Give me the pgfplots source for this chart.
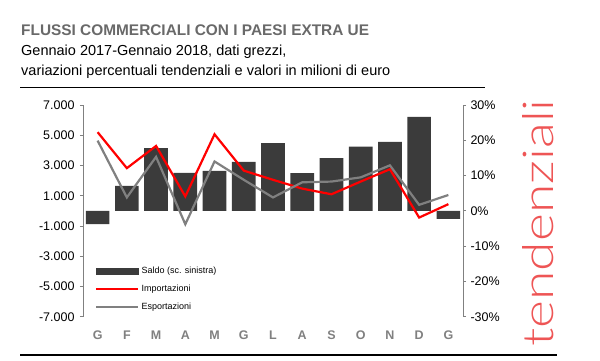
\documentclass[border=0pt]{standalone}
\usepackage{fontspec}
\setmainfont{Liberation Sans}
\newfontfamily\thinfont{Lato Light}
\usepackage{pgfplots}
\pgfplotsset{compat=1.18}
\definecolor{barc}{RGB}{59,59,59}
\definecolor{impc}{RGB}{255,0,0}
\definecolor{espc}{RGB}{128,128,128}
\definecolor{titc}{RGB}{105,105,105}
\definecolor{tendc}{RGB}{238,85,85}
\begin{document}
\begin{tikzpicture}
\useasboundingbox (0pt,0pt) rectangle (600pt,360pt);
\node[anchor=base west,inner sep=0pt,text=titc,font=\fontsize{15.4}{18}\selectfont\bfseries] at (21pt,325pt) {FLUSSI COMMERCIALI CON I PAESI EXTRA UE};
\node[anchor=base west,inner sep=0pt,font=\fontsize{14.5}{17}\selectfont] at (21pt,305pt) {Gennaio 2017-Gennaio 2018, dati grezzi,};
\node[anchor=base west,inner sep=0pt,font=\fontsize{14.5}{17}\selectfont] at (21pt,285pt) {variazioni percentuali tendenziali e valori in milioni di euro};
\draw[line width=1.5pt] (20pt,272.5pt) -- (485pt,272.5pt);
\draw[line width=1.5pt] (20pt,5pt) -- (557pt,5pt);
\node[anchor=base west,inner sep=0pt,rotate=90,text=tendc] at (553pt,13.3pt) {\resizebox{247pt}{31pt}{\thinfont tendenziali}};
\begin{axis}[
  at={(83pt,43.3pt)}, anchor=south west, scale only axis,
  width=380pt, height=211.7pt,
  xmin=-0.5, xmax=12.5, ymin=-7000, ymax=7000,
  axis y line*=left, axis x line*=bottom,
  x axis line style={draw=none},
  xtick={0,...,12},
  xticklabels={G,F,M,A,M,G,L,A,S,O,N,D,G},
  major x tick style={draw=none},
  xticklabel style={text=espc,font=\fontsize{12.5}{14}\selectfont\bfseries,yshift=-8pt},
  ytick={-7000,-5000,-3000,-1000,1000,3000,5000,7000},
  yticklabels={-7.000,-5.000,-3.000,-1.000,1.000,3.000,5.000,7.000},
  yticklabel style={font=\fontsize{12.5}{14}\selectfont,xshift=-2pt},
  y axis line style={draw=espc,line width=0.8pt},
  major y tick style={draw=espc,line width=0.8pt},
  tick align=outside, major tick length=3pt,
  clip=false,
]
\addplot[ybar, bar width=0.81, fill=barc, draw=none] coordinates {
(0,-880) (1,1650) (2,4140) (3,2510) (4,2650) (5,3240) (6,4480)
(7,2490) (8,3480) (9,4250) (10,4560) (11,6220) (12,-530)};
\end{axis}
\begin{axis}[
  at={(83pt,43.3pt)}, anchor=south west, scale only axis,
  width=380pt, height=211.7pt,
  xmin=-0.5, xmax=12.5, ymin=-30, ymax=30,
  axis y line*=right, axis x line=none,
  ytick={-30,-20,-10,0,10,20,30},
  yticklabels={-30\%,-20\%,-10\%,0\%,10\%,20\%,30\%},
  yticklabel style={font=\fontsize{12.5}{14}\selectfont,xshift=1pt},
  y axis line style={draw=espc,line width=0.8pt},
  major y tick style={draw=espc,line width=0.8pt},
  tick align=outside, major tick length=3pt,
  clip=false,
  legend style={at={(0.032,0.245)}, anchor=north west, draw=none, fill=none,
    inner sep=0pt, font=\fontsize{9}{10}\selectfont, row sep=6pt,
    cells={anchor=west}},
  legend image code/.code={\draw[#1] (0pt,0pt) -- (42pt,0pt);},
]
\addlegendimage{legend image code/.code={\fill[barc] (0pt,-3pt) rectangle (42pt,3pt);}}
\addlegendentry{Saldo (sc. sinistra)}
\addplot[impc, line width=2.2pt] coordinates {
(0,22.3) (1,12.1) (2,18.4) (3,4.1) (4,21.7) (5,11.4) (6,8.8)
(7,6.3) (8,4.7) (9,8.3) (10,11.8) (11,-1.9) (12,1.9)};
\addlegendentry{Importazioni}
\addplot[espc, line width=2.2pt] coordinates {
(0,19.9) (1,3.8) (2,15.3) (3,-3.8) (4,14.0) (5,8.8) (6,3.8)
(7,8.1) (8,8.3) (9,9.5) (10,12.9) (11,1.7) (12,4.5)};
\addlegendentry{Esportazioni}
\end{axis}
\end{tikzpicture}
\end{document}
